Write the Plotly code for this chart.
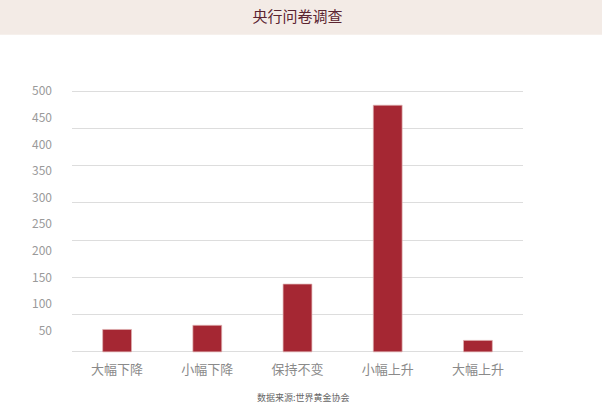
import numpy as np
import plotly.graph_objects as go

categories = ["大幅下降", "小幅下降", "保持不变", "小幅上升", "大幅上升"]
values = [43, 51, 130, 473, 22]
y_tick_labels = ["50", "100", "150", "200", "250", "300", "350", "400", "450", "500"]

title_text = "央行问卷调查"
source_text = "数据来源:世界黄金协会"

FONT = "Noto Sans CJK SC"
YMAX = 500
PAD = 6
# labels are spaced slightly wider than the axis units in the reference
label_step = 51.06
label_pos = [YMAX - (YMAX - float(t)) / 50 * label_step for t in y_tick_labels]

fig = go.Figure()
fig.add_trace(go.Bar(
    x=categories, y=values,
    marker=dict(color="#a52733", line=dict(color="rgba(225,180,180,0.9)", width=0.8)),
    hoverinfo="x+y",
))
# invisible trace on the overlay axis that carries the gridlines
fig.add_trace(go.Scatter(x=categories, y=[None]*len(categories), yaxis="y2",
                         showlegend=False, hoverinfo="skip"))

ppu = 260.5 / YMAX
plot_h = (YMAX + 2*PAD) * ppu
top_m = 91 - PAD*ppu
bot_m = 407 - top_m - plot_h

fig.update_layout(
    width=602, height=407,
    margin=dict(l=72, r=79, t=top_m, b=bot_m, pad=0),
    paper_bgcolor="white", plot_bgcolor="white",
    showlegend=False,
    bargap=0.68,
    title=dict(text=title_text, x=0.5, xanchor="center", xref="paper",
               y=1 - 17/407, yanchor="middle",
               font=dict(family=FONT, size=15, color="#5b2430")),
    xaxis=dict(showgrid=False, showline=False, zeroline=False, ticks="",
               tickfont=dict(family=FONT, size=13, color="#8a8a8a"),
               ticklabelstandoff=5),
    yaxis=dict(range=[-PAD, YMAX + PAD], showgrid=False, zeroline=False, showline=False,
               tickvals=label_pos, ticktext=y_tick_labels, ticks="",
               tickfont=dict(family=FONT, size=12, color="#9a9a9a"),
               ticklabelstandoff=19),
    yaxis2=dict(range=[-PAD, YMAX + PAD], overlaying="y", side="left", showticklabels=False,
                tickvals=[float(v) for v in np.linspace(0, YMAX, 8)], showgrid=True,
                gridcolor="#dddddd", gridwidth=1, zeroline=False, ticks=""),
    shapes=[dict(type="rect", xref="paper", yref="paper",
                 x0=-0.5, x1=1.5, y0=(407 - bot_m - 34.7)/plot_h, y1=2,
                 fillcolor="#f3ebe6", line=dict(width=0), layer="below")],
    annotations=[dict(text=source_text, xref="paper", yref="paper",
                      x=(303-72)/451, y=(407 - bot_m - 396.7)/plot_h,
                      xanchor="center", yanchor="middle",
                      showarrow=False, font=dict(family=FONT, size=9, color="#666666"))],
)

fig.write_html("out.html", config={"displayModeBar": False},
               post_script="document.body.style.margin='0';document.body.style.overflow='hidden';")
